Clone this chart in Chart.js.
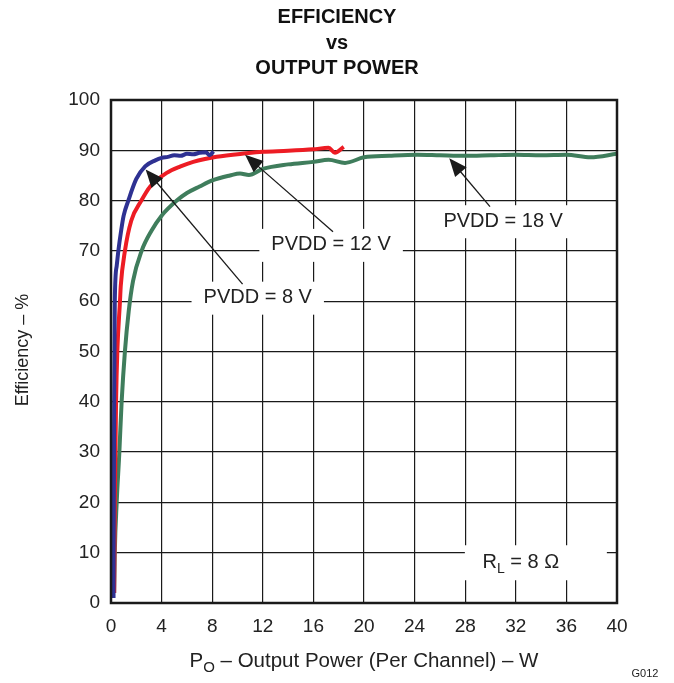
<!DOCTYPE html>
<html>
<head>
<meta charset="utf-8">
<script src="https://cdn.jsdelivr.net/npm/chart.js@4"></script>
<style>
html, body { margin: 0; padding: 0; background: #fff; }
#wrap { width: 674px; height: 683px; position: relative; }
</style>
</head>
<body>
<div id="wrap"><canvas id="myChart"></canvas></div>
<script>
// PVDD = 8 V
var power8 = [0.2, 0.22, 0.25, 0.3, 0.45, 0.58, 0.8, 1.0, 1.37, 2.0, 2.7, 3.5, 4.0, 4.5, 5.0, 5.5, 6.0, 6.5, 7.0, 7.5, 7.8, 8.1];
var eff8   = [1, 20, 40, 60, 67, 70, 74, 77, 80, 84.3, 86.8, 88.0, 88.5, 88.7, 89.0, 88.9, 89.3, 89.2, 89.5, 89.6, 89.0, 89.8];
// PVDD = 12 V
var power12 = [0.25, 0.3, 0.4, 0.5, 0.71, 0.77, 1.1, 1.6, 2.4, 3.1, 4.4, 5.5, 6.5, 8.35, 10.7, 12, 14, 16, 17.2, 17.7, 18.4];
var eff12   = [2, 20, 40, 50, 60, 63, 70, 76, 80, 82.8, 85.5, 86.8, 87.7, 88.7, 89.4, 89.7, 89.9, 90.2, 90.5, 89.5, 90.7];
// PVDD = 18 V
var power18 = [0.25, 0.3, 0.45, 0.66, 0.84, 1.1, 1.4, 1.74, 2.42, 3.2, 4.0, 5.2, 6.0, 7.0, 8.0, 9.4, 10.2, 10.9, 12, 14, 16, 17.2, 18.5, 20, 22, 24.2, 26, 28, 30, 32, 34, 36, 37.9, 40];
var eff18   = [2, 10, 20, 30, 40, 50, 58, 64, 70, 74, 77, 80, 81.5, 82.8, 84, 85, 85.4, 85.1, 86.3, 87.2, 87.7, 88.1, 87.5, 88.6, 88.9, 89.1, 89.0, 88.9, 89.0, 89.1, 89.0, 89.1, 88.6, 89.3];

var seriesLabels = ['PVDD = 8 V', 'PVDD = 12 V', 'PVDD = 18 V'];
var xTickStep = 4;
var yTickStep = 10;

function pts(xs, ys) {
    var out = [];
    for (var i = 0; i < xs.length; i++) out.push({x: xs[i], y: ys[i]});
    return out;
}

// callouts in data units: arrow tip, arrow tail, label centre
var callouts = [
    {text: seriesLabels[0], tip: [2.74, 86.2], tail: [10.4, 63.4], at: [11.6, 60.7]},
    {text: seriesLabels[1], tip: [10.6, 89.1], tail: [17.55, 73.8], at: [17.4, 71.2]},
    {text: seriesLabels[2], tip: [26.74, 88.4], tail: [29.96, 78.8], at: [31.0, 75.9]}
];
var loadLabel = {at: [32.4, 8.3]};

var FONT = '"Liberation Sans", Arial, sans-serif';
Chart.defaults.font.family = FONT;

function drawArrow(ctx, x1, y1, x2, y2) {
    var a = Math.atan2(y2 - y1, x2 - x1), len = 18, w = 7.5;
    ctx.beginPath();
    ctx.moveTo(x1, y1);
    ctx.lineTo(x2 - Math.cos(a) * len * 0.7, y2 - Math.sin(a) * len * 0.7);
    ctx.stroke();
    ctx.beginPath();
    ctx.moveTo(x2, y2);
    ctx.lineTo(x2 - len * Math.cos(a) + w * Math.sin(a), y2 - len * Math.sin(a) - w * Math.cos(a));
    ctx.lineTo(x2 - len * Math.cos(a) - w * Math.sin(a), y2 - len * Math.sin(a) + w * Math.cos(a));
    ctx.closePath();
    ctx.fill();
}

var decor = {
    id: 'decor',
    beforeDatasetsDraw: function(chart) {
        var ctx = chart.ctx, xs = chart.scales.x, ys = chart.scales.y;
        ctx.save();
        ctx.font = '20px ' + FONT;
        ctx.fillStyle = '#fff';
        callouts.forEach(function(c) {
            var cx = xs.getPixelForValue(c.at[0]), cy = ys.getPixelForValue(c.at[1]);
            var w = ctx.measureText(c.text).width;
            ctx.fillRect(cx - w / 2 - 12, cy - 16, w + 24, 33);
        });
        var lx = xs.getPixelForValue(loadLabel.at[0]), ly = ys.getPixelForValue(loadLabel.at[1]);
        ctx.fillRect(lx - 56, ly - 16, 142, 35);
        ctx.restore();
    },
    afterDatasetsDraw: function(chart) {
        var ctx = chart.ctx, xs = chart.scales.x, ys = chart.scales.y, a = chart.chartArea;
        ctx.save();
        // frame
        ctx.strokeStyle = '#1a1a1a';
        ctx.lineWidth = 2.5;
        ctx.strokeRect(a.left, a.top, a.right - a.left, a.bottom - a.top);

        // callouts
        ctx.fillStyle = '#1a1a1a';
        ctx.strokeStyle = '#1a1a1a';
        ctx.lineWidth = 1.3;
        ctx.font = '20px ' + FONT;
        ctx.textAlign = 'center';
        ctx.textBaseline = 'middle';
        callouts.forEach(function(c) {
            drawArrow(ctx, xs.getPixelForValue(c.tail[0]), ys.getPixelForValue(c.tail[1]),
                xs.getPixelForValue(c.tip[0]), ys.getPixelForValue(c.tip[1]));
            ctx.fillStyle = '#222';
            ctx.fillText(c.text, xs.getPixelForValue(c.at[0]), ys.getPixelForValue(c.at[1]));
            ctx.fillStyle = '#1a1a1a';
        });

        // R_L = 8 Ω
        ctx.fillStyle = '#222';
        ctx.textAlign = 'left';
        ctx.textBaseline = 'alphabetic';
        var lx = xs.getPixelForValue(loadLabel.at[0]), ly = ys.getPixelForValue(loadLabel.at[1]);
        ctx.font = '20px ' + FONT;
        var wR = ctx.measureText('R').width;
        ctx.font = '14px ' + FONT;
        var wL = ctx.measureText('L').width;
        ctx.font = '20px ' + FONT;
        var rest = ' = 8 \u03A9';
        var wRest = ctx.measureText(rest).width;
        var x0 = lx - (wR + wL + wRest) / 2;
        ctx.fillText('R', x0, ly + 7);
        ctx.font = '14px ' + FONT;
        ctx.fillText('L', x0 + wR, ly + 12);
        ctx.font = '20px ' + FONT;
        ctx.fillText(rest, x0 + wR + wL, ly + 7);

        // title
        ctx.textAlign = 'center';
        ctx.fillStyle = '#111';
        ctx.font = 'bold 20px ' + FONT;
        ctx.fillText('EFFICIENCY', 337, 23);
        ctx.fillText('vs', 337, 49);
        ctx.fillText('OUTPUT POWER', 337, 74);

        // x axis title with subscript
        ctx.fillStyle = '#222';
        ctx.textAlign = 'left';
        ctx.font = '20.5px ' + FONT;
        var wP = ctx.measureText('P').width;
        ctx.font = '15px ' + FONT;
        var wO = ctx.measureText('O').width;
        ctx.font = '20.5px ' + FONT;
        var xt = ' \u2013 Output Power (Per Channel) \u2013 W';
        var wX = ctx.measureText(xt).width;
        var tx = 364 - (wP + wO + wX) / 2;
        ctx.fillText('P', tx, 667);
        ctx.font = '15px ' + FONT;
        ctx.fillText('O', tx + wP, 672);
        ctx.font = '20.5px ' + FONT;
        ctx.fillText(xt, tx + wP + wO, 667);

        // y axis title
        ctx.save();
        ctx.translate(28, 350);
        ctx.rotate(-Math.PI / 2);
        ctx.textAlign = 'center';
        ctx.font = '18px ' + FONT;
        ctx.fillText('Efficiency \u2013 %', 0, 0);
        ctx.restore();

        // figure code
        ctx.font = '11px ' + FONT;
        ctx.textAlign = 'center';
        ctx.fillText('G012', 645, 677);
        ctx.restore();
    }
};

var ctx = document.getElementById('myChart').getContext('2d');
var myChart = new Chart(ctx, {
    type: 'line',
    data: {
        datasets: [{
            label: seriesLabels[0],
            data: pts(power8, eff8),
            borderColor: '#2e3192',
            borderWidth: 4,
            pointRadius: 0,
            fill: false,
            cubicInterpolationMode: 'monotone'
        }, {
            label: seriesLabels[1],
            data: pts(power12, eff12),
            borderColor: '#ed1c24',
            borderWidth: 4,
            pointRadius: 0,
            fill: false,
            cubicInterpolationMode: 'monotone'
        }, {
            label: seriesLabels[2],
            data: pts(power18, eff18),
            borderColor: '#3f7d5c',
            borderWidth: 4,
            pointRadius: 0,
            fill: false,
            cubicInterpolationMode: 'monotone'
        }]
    },
    options: {
        responsive: true,
        maintainAspectRatio: false,
        animation: false,
        layout: { padding: { top: 100, right: 57, bottom: 0, left: 0 } },
        plugins: { legend: { display: false }, tooltip: { enabled: false } },
        scales: {
            x: {
                type: 'linear',
                min: 0, max: 40,
                afterFit: function(scale) { scale.height = 80; },
                ticks: { stepSize: xTickStep, color: '#222', font: { size: 19 }, padding: 12, maxRotation: 0 },
                grid: { color: '#1a1a1a', lineWidth: 1.2, drawTicks: false },
                border: { display: false }
            },
            y: {
                min: 0, max: 100,
                afterFit: function(scale) { scale.width = 111; },
                ticks: { stepSize: yTickStep, color: '#222', font: { size: 19 }, padding: 11 },
                grid: { color: '#1a1a1a', lineWidth: 1.2, drawTicks: false },
                border: { display: false }
            }
        }
    },
    plugins: [decor]
});
</script>
</body>
</html>
